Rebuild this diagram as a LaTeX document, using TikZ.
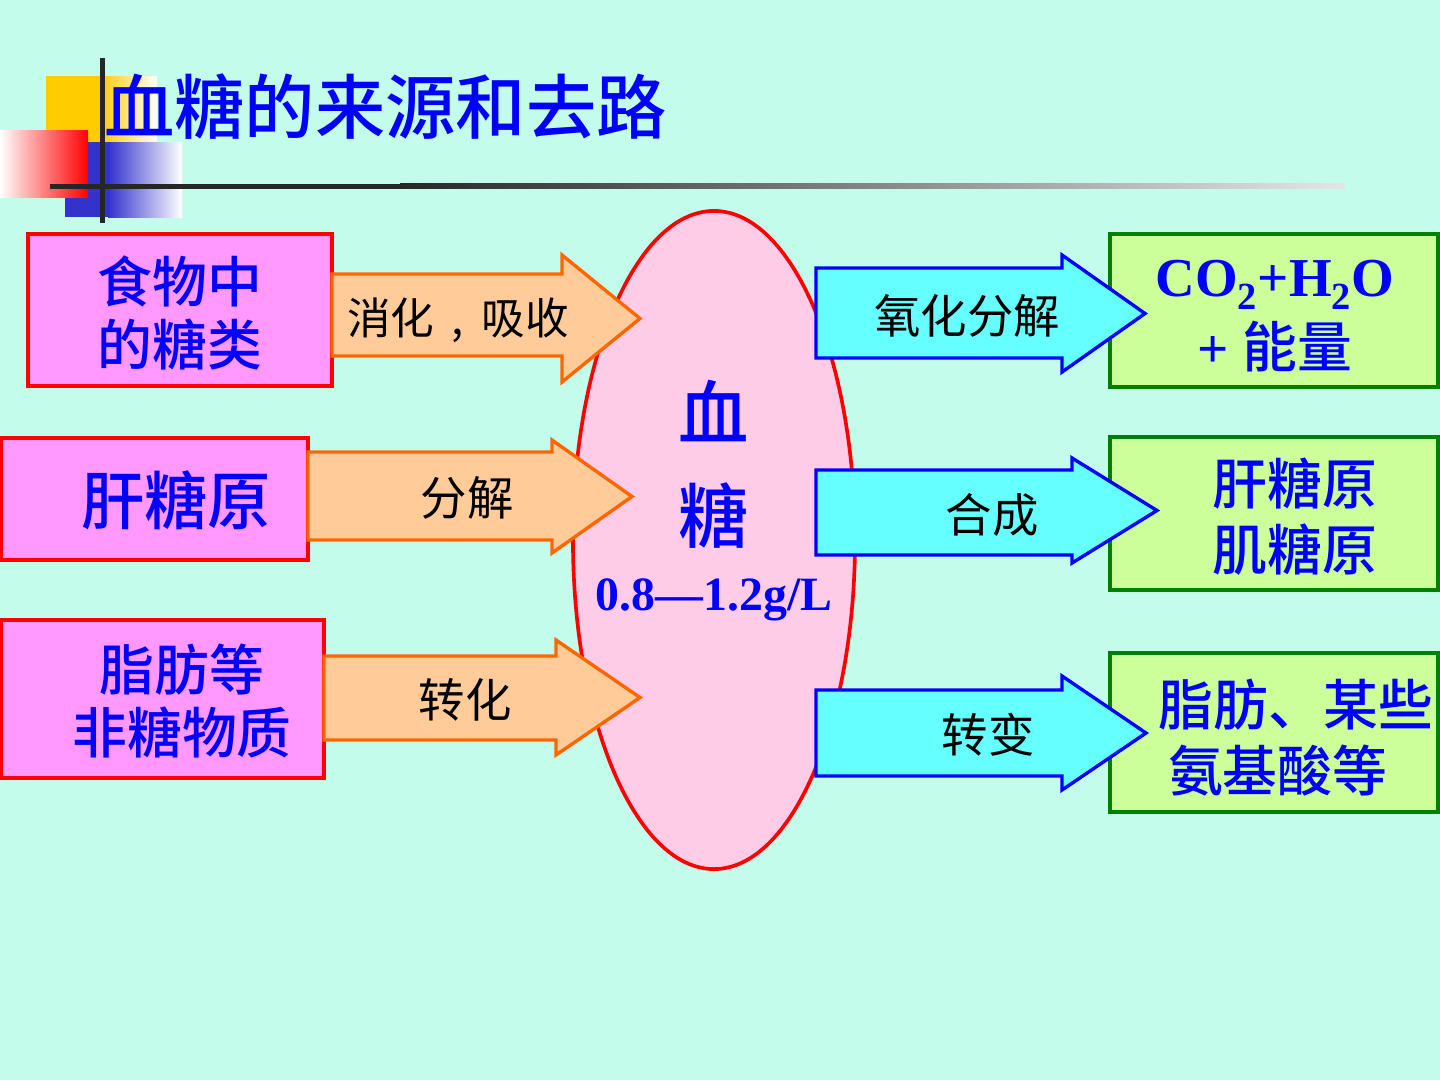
\documentclass[tikz,border=0pt]{standalone}
\usepackage{fontspec}
\setmainfont{Liberation Serif}
\newfontfamily\cjk{Noto Sans CJK SC}[BoldFont={* Medium}]
\usetikzlibrary{shapes.geometric}

\definecolor{bgmint}{RGB}{196,252,236}
\definecolor{titleblue}{RGB}{0,0,255}
\definecolor{srcfill}{RGB}{255,153,255}
\definecolor{inarrow}{RGB}{255,204,153}
\definecolor{inedge}{RGB}{255,102,0}
\definecolor{bloodfill}{RGB}{255,204,232}
\definecolor{outarrow}{RGB}{102,255,255}
\definecolor{dstfill}{RGB}{204,255,153}
\definecolor{dstedge}{RGB}{0,128,0}
\definecolor{decoyellow}{RGB}{255,204,0}
\definecolor{decoblue}{RGB}{51,51,204}

% block arrow: style, x start, body top, body bottom, head x, head top, head bottom, tip x
\newcommand{\blockarrow}[8]{%
  \draw[#1] (#2,#3) -- (#5,#3) -- (#5,#6) -- (#8,{(#6+#7)/2}) -- (#5,#7) -- (#5,#4) -- (#2,#4) -- cycle;}

\begin{document}
\begin{tikzpicture}[
    x=0.025cm, y=-0.025cm,
    srcbox/.style={rectangle, draw=red, fill=srcfill, line width=2.4pt},
    dstbox/.style={rectangle, draw=dstedge, fill=dstfill, line width=2.4pt,
                   minimum width=8.2cm},
    bluetext/.style={text=titleblue, align=center,
                     font={\cjk\bfseries\fontsize{39}{45}\selectfont}},
    arrowtext/.style={text=black, font={\cjk\fontsize{33}{40}\selectfont}},
    inarr/.style={fill=inarrow, draw=inedge, line width=2.4pt, line join=miter},
    outarr/.style={fill=outarrow, draw=titleblue, line width=2.4pt, line join=miter}
]
  \useasboundingbox (0,0) rectangle (1440,1080);
  \fill[bgmint] (0,0) rectangle (1440,1080);

  % title decoration
  \fill[decoyellow] (46,76) rectangle (100,145);
  \shade[left color=decoyellow, right color=white] (100,76) rectangle (157,145);
  \fill[decoblue] (65,142) rectangle (108,217);
  \shade[left color=decoblue, right color=white] (108,142) rectangle (182,217);
  \shade[left color=white, right color=red] (0,130) rectangle (88,197);
  \fill[black!85] (50,183.5) rectangle (400,188.5);
  \shade[left color=black!85, right color=black!10] (400,183.5) rectangle (1345,188.5);
  \fill[black!85] (100,58) rectangle (105,223);
  \node[anchor=west, inner sep=0pt, text=titleblue,
        font={\cjk\bfseries\fontsize{50}{60}\selectfont}] (title) at (104,107) {血糖的来源和去路};

  % sources
  \node[srcbox, minimum width=7.6cm, minimum height=3.8cm] (food) at (180,310) {};
  \node[srcbox, minimum width=7.675cm, minimum height=3.05cm] (liver) at (154.5,499) {};
  \node[srcbox, minimum width=8.075cm, minimum height=3.95cm] (fat) at (162.5,699) {};
  \node[bluetext] (foodtxt) at (180,313) {食物中\\的糖类};
  \node[bluetext, font={\cjk\bfseries\fontsize{45}{50}\selectfont}] (livertxt) at (176,500) {肝糖原};
  \node[bluetext] (fattxt) at (182,701) {脂肪等\\非糖物质};

  % blood sugar
  \node[ellipse, draw=red, fill=bloodfill, line width=2.6pt,
        minimum width=7.05cm, minimum height=16.45cm] (blood) at (714,540) {};
  \node[bluetext, font={\cjk\bfseries\fontsize{50}{60}\selectfont}] (bloodA) at (714,411) {血};
  \node[bluetext, font={\cjk\bfseries\fontsize{50}{60}\selectfont}] (bloodB) at (714,516) {糖};
  \node[text=titleblue, font={\bfseries\fontsize{34}{40}\selectfont}] (range) at (714,600) {0.8—1.2g/L};

  % arrows into blood
  \blockarrow{inarr}{332}{274}{356}{562}{255}{382}{640}
  \blockarrow{inarr}{308}{452}{540}{552}{440}{553}{632}
  \blockarrow{inarr}{324}{656}{740}{556}{640}{755}{640}
  \node[arrowtext, font={\cjk\fontsize{31}{40}\selectfont}] (digest) at (458,320) {消化\hspace{0.4em},\hspace{0.4em}吸收};
  \node[arrowtext] (split) at (467,498) {分解};
  \node[arrowtext] (convert) at (465,700) {转化};

  % destinations
  \node[dstbox, minimum height=3.825cm] (energy) at (1274,310.5) {};
  \node[dstbox, minimum height=3.825cm] (store) at (1274,513.5) {};
  \node[dstbox, minimum height=3.975cm] (other) at (1274,732.5) {};

  % arrows out of blood
  \blockarrow{outarr}{816}{268}{358}{1062}{255}{372}{1145}
  \blockarrow{outarr}{816}{470}{555}{1072}{458}{563}{1157}
  \blockarrow{outarr}{816}{690}{776}{1062}{676}{790}{1146}
  \node[arrowtext] (oxid) at (967,316) {氧化分解};
  \node[arrowtext] (synth) at (992,515) {合成};
  \node[arrowtext] (change) at (988,735) {转变};

  \node[text=titleblue, align=center, font={\bfseries\fontsize{39}{51}\selectfont}] (energytxt) at (1275,316)
       {CO\textsubscript{2}+H\textsubscript{2}O\\+ {\cjk\bfseries 能量}};
  \node[bluetext, font={\cjk\bfseries\fontsize{39}{47}\selectfont}] (storetxt) at (1295,517) {肝糖原\\肌糖原};
  \node[bluetext, align=left, font={\cjk\bfseries\fontsize{39}{47}\selectfont}] (othertxt) at (1296,738)
       {脂肪、某些\\\,氨基酸等};
\end{tikzpicture}
\end{document}
